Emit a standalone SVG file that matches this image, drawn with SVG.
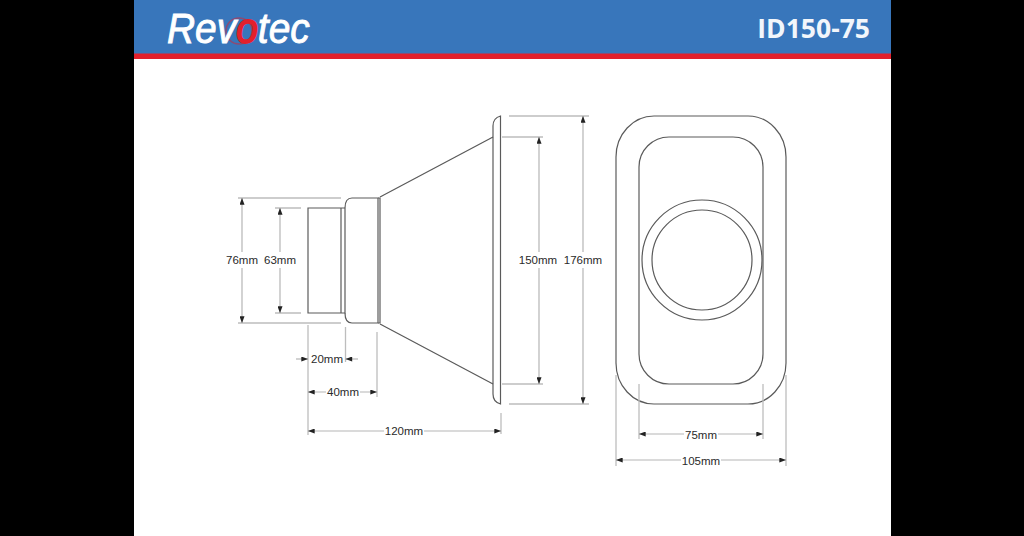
<svg xmlns="http://www.w3.org/2000/svg" width="1024" height="536" viewBox="0 0 1024 536">
<style>
.o{fill:none;stroke:#5a5a5a;stroke-width:1.2}
.d{fill:none;stroke:#bdbdbd;stroke-width:1.3}
.a{fill:none;stroke:#b5b5b5;stroke-width:1.2;marker-start:url(#m);marker-end:url(#m)}
.b{fill:none;stroke:#b5b5b5;stroke-width:1.2;marker-end:url(#m)}
.t{font:11.5px "Liberation Sans",Arial,sans-serif;fill:#2a2a2a;text-anchor:middle}
.w{fill:#fff}
</style>
<defs>
<marker id="m" viewBox="0 0 8 6" refX="8" refY="3" markerWidth="8" markerHeight="5" orient="auto-start-reverse" markerUnits="userSpaceOnUse"><path d="M0 0L8 3L0 6z" fill="#222"/></marker>
<filter id="s" x="-5%" y="-5%" width="110%" height="110%"><feGaussianBlur stdDeviation="0.35"/></filter>
</defs>
<rect width="1024" height="536" fill="#000"/>
<rect x="134" width="757" height="536" fill="#fff"/>
<g id="header">
<rect x="134" width="757" height="54" fill="#3876bb"/>
<rect x="134" y="53.500" width="757" height="5.500" fill="#e2202c"/>
<circle cx="239" cy="31" r="13" fill="none" stroke="#e2202c" stroke-width="1.500" opacity=".5"/>
<text transform="translate(167 43) scale(.905 1)" font-family="Liberation Sans,Arial,sans-serif" font-size="43" font-style="italic" fill="#fff" stroke="#fff" stroke-width=".9">Rev<tspan fill="#e2202c" stroke="#e2202c" stroke-width="1.800">o</tspan>tec</text>
<text x="870" y="38" text-anchor="end" font-family="Open Sans,Noto Sans,sans-serif" font-size="26.500" font-weight="700" fill="#f2f6fb">ID150-75</text>
</g>
<g id="side-view" filter="url(#s)">
<path class="o" d="M345 208H308V313H345V208M341 208V313"/>
<path class="o" d="M345 208Q345 198 352 198H378V323H352Q345 323 345 313"/>
<path class="o" d="M378 198H380V323H378"/>
<path class="o" d="M380 197L493 137M380 324L493 384"/>
<path class="o" d="M493 126Q493 118 500.500 116V404Q493 402 493 394Z" stroke-width="1.500"/>
</g>
<g id="front-view" filter="url(#s)">
<rect class="o" x="616" y="116" width="170" height="288" rx="38" ry="41"/>
<rect class="o" x="639" y="137" width="124" height="247" rx="30" ry="30"/>
<circle class="o" cx="702" cy="260" r="60"/>
<circle class="o" cx="702" cy="260" r="50"/>
</g>
<g id="connectors" filter="url(#s)">
<path class="d" d="M238 198H341M275 208H301M238 323H341M275 313H301"/>
<path class="d" d="M308 325V435M345.500 327V362M377 332V397M501 413V434"/>
<path class="d" d="M509 116H589M502 137H543M502 384H543M509 404H589"/>
<path class="d" d="M639 384V439M763 384V439M616 375V466M786 375V466"/>
<line class="a" x1="242" y1="198" x2="242" y2="323"/>
<line class="a" x1="280" y1="208" x2="280" y2="313"/>
<line class="a" x1="539" y1="137" x2="539" y2="384"/>
<line class="a" x1="583" y1="116" x2="583" y2="404"/>
<line class="b" x1="296" y1="359" x2="308" y2="359"/>
<line class="b" x1="358" y1="359" x2="345.500" y2="359"/>
<line class="a" x1="308" y1="392" x2="377" y2="392"/>
<line class="a" x1="308" y1="431" x2="501" y2="431"/>
<line class="a" x1="639" y1="434" x2="763" y2="434"/>
<line class="a" x1="616" y1="460" x2="786" y2="460"/>
</g>
<g id="labels">
<rect class="w" x="224" y="252" width="36" height="16"/><text class="t" x="242" y="264">76mm</text>
<rect class="w" x="262" y="252" width="36" height="16"/><text class="t" x="280" y="264">63mm</text>
<rect class="w" x="520" y="252" width="38" height="16"/><text class="t" x="538" y="264">150mm</text>
<rect class="w" x="563" y="252" width="40" height="16"/><text class="t" x="583" y="264">176mm</text>
<text class="t" x="327" y="363">20mm</text>
<rect class="w" x="326" y="385" width="34" height="15"/><text class="t" x="343" y="396">40mm</text>
<rect class="w" x="384" y="423" width="40" height="15"/><text class="t" x="404" y="435">120mm</text>
<rect class="w" x="684" y="427" width="34" height="15"/><text class="t" x="701" y="439">75mm</text>
<rect class="w" x="681" y="453" width="40" height="15"/><text class="t" x="701" y="465">105mm</text>
</g>
</svg>
